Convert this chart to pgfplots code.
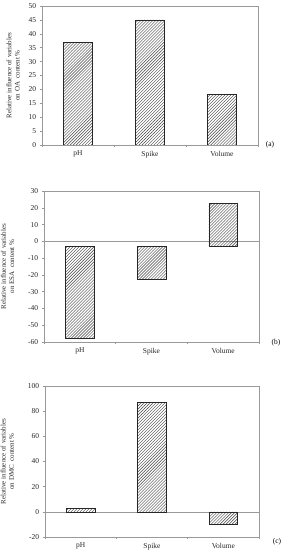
\documentclass[border=0pt]{standalone}
\usepackage{pgfplots}
\pgfplotsset{compat=1.18}
\usepackage{fontspec}
\setmainfont{Liberation Serif}
\usetikzlibrary{patterns}
\pgfplotsset{
  panel/.style={
    scale only axis,
    xmin=-0.5, xmax=2.5,
    xtick={0,1,2},
    xticklabels={pH,Spike,Volume},
    minor xtick={-0.5,0.5,1.5,2.5},
    major x tick style={draw=none},
    minor tick length=2.5pt,
    major tick length=2.5pt,
    tick align=outside,
    xtick pos=bottom, ytick pos=left,
    axis line style={gray!80, line width=0.6pt},
    every tick/.style={gray!80, line width=0.5pt},
    tick label style={font=\fontsize{7.5}{8}\selectfont, text=black!85},
    ylabel style={font=\fontsize{7}{8.2}\selectfont, align=center, text=black!85},
    /pgf/number format/assume math mode=true,
    ybar stacked,
    stack negative=on previous,
    bar width=0.4,
    ylabel shift=2pt,
  },
  hbar/.style={draw=black!85, line width=0.6pt, pattern=north east lines, pattern color=black!75},
  ghost/.style={draw=none, fill=none},
}
\begin{document}
\begin{tikzpicture}[x=1bp,y=1bp]
\useasboundingbox (0,0) rectangle (286,550);
% (a)
\begin{axis}[panel, at={(42bp,405bp)}, anchor=south west, width=216bp, height=139bp,
  ymin=0, ymax=50, ytick={0,5,...,50},
  ylabel={Relative influence of variables\\on OA\ \ content \%}]
\addplot[hbar] coordinates {(0,37) (1,45) (2,18.3)};
\end{axis}
\node[font=\fontsize{7.5}{8}\selectfont] at (270,405) {(a)};
% (b)
\begin{axis}[panel, at={(44bp,208bp)}, anchor=south west, width=215bp, height=151bp,
  ymin=-60, ymax=30, ytick={-60,-50,...,30},
  ylabel={Relative influence of variables\\on ESA\ \ content \%},
  extra y ticks={0}, extra y tick labels={}, extra y tick style={grid=major, major grid style={gray!80, line width=0.5pt}}]
\addplot[ghost] coordinates {(0,-3) (1,-3) (2,-3)};
\addplot[hbar] coordinates {(0,-54.5) (1,-19.5) (2,25.5)};
\end{axis}
\node[font=\fontsize{7.5}{8}\selectfont] at (276,207) {(b)};
% (c)
\begin{axis}[panel, at={(45bp,13bp)}, anchor=south west, width=214bp, height=151bp,
  ymin=-20, ymax=100, ytick={-20,0,...,100},
  ylabel={Relative influence of variables\\on DMC\ \ content \%},
  extra y ticks={0}, extra y tick labels={}, extra y tick style={grid=major, major grid style={gray!80, line width=0.5pt}}]
\addplot[hbar] coordinates {(0,3) (1,87) (2,-10)};
\end{axis}
\node[font=\fontsize{7.5}{8}\selectfont] at (277,8) {(c)};
\end{tikzpicture}
\end{document}
